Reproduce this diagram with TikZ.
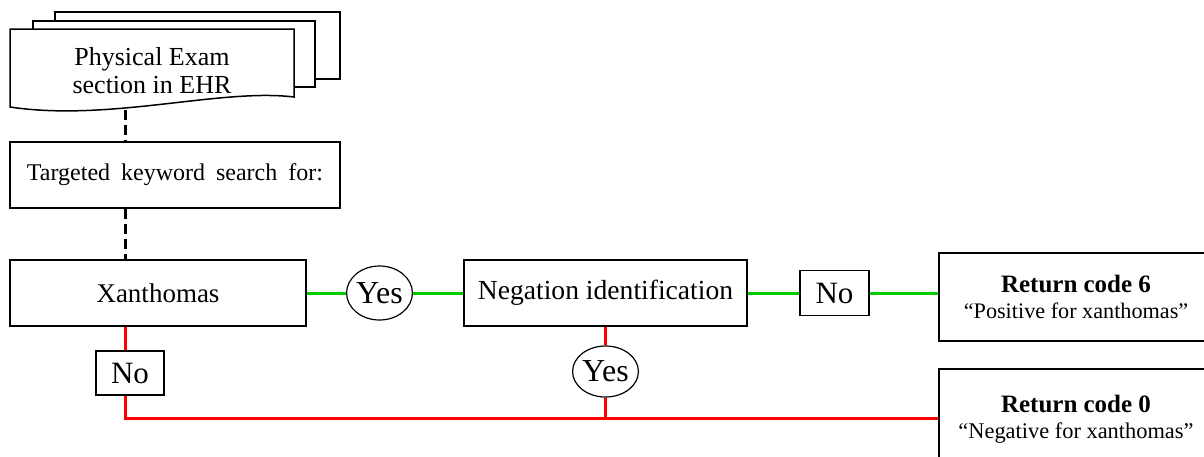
\documentclass[tikz,border=0pt]{standalone}
\usepackage{fontspec}
\setmainfont{Liberation Serif}
\usetikzlibrary{shapes.geometric}

\definecolor{linegreen}{RGB}{0,204,0}
\definecolor{linered}{RGB}{255,0,0}

\begin{document}
\begin{tikzpicture}[x=0.5pt,y=-0.5pt]

\tikzset{
    sheet/.style={draw, line width=0.75pt, fill=white},
    box/.style={draw, line width=0.75pt, fill=white, inner sep=0pt, align=center},
    oval/.style={draw, ellipse, line width=0.6pt, fill=white, inner sep=0pt, minimum width=31pt, font=\fontsize{16}{18}\selectfont},
    dashline/.style={line width=1.5pt, dash pattern=on 5pt off 2.5pt},
    greenline/.style={line width=1.5pt, draw=linegreen},
    redline/.style={line width=1.5pt, draw=linered}
}
\clip (0,0) rectangle (1204,456);

\draw[sheet] (55,12) rectangle (340,79);
\draw[sheet] (33,21) rectangle (315,87);
\draw[sheet] (10,29) -- (294,29) -- (294,97) .. controls (220,88) and (110,122) .. (10,107) -- cycle;
\node[align=center, font=\fontsize{13}{14}\selectfont] (doc) at (152,71) {Physical Exam\\section in EHR};
\coordinate (docb) at (125,110);

\node[box, minimum width=165pt, minimum height=33pt, font=\fontsize{12}{15}\selectfont] (tks) at (175,175) {Targeted\hspace{5.5pt}keyword\hspace{5.5pt}search\hspace{5.5pt}for:};
\node[box, minimum width=148pt, minimum height=33pt, font=\fontsize{13.5}{15}\selectfont] (xan) at (158,293) {Xanthomas};
\node[oval, minimum height=27pt] (yes1) at (379.5,293) {Yes};
\node[box, minimum width=141.5pt, minimum height=33pt, font=\fontsize{13.8}{15}\selectfont] (neg) at (605.5,293) {Negation identification};
\node[box, minimum width=34.5pt, minimum height=22.5pt, font=\fontsize{15.5}{17}\selectfont] (no2) at (834.5,293) {No};
\node[box, minimum width=137pt, minimum height=44pt, font=\fontsize{11.1}{13}\selectfont] (r6) at (1076,297) {{\fontsize{12.5}{13}\selectfont\bfseries Return code 6}\\``Positive for xanthomas''};
\node[oval, minimum height=25.5pt] (yes2) at (605.5,371.5) {Yes};
\node[box, minimum width=34pt, minimum height=22pt, font=\fontsize{15.5}{17}\selectfont] (no1) at (130,373) {No};
\node[box, minimum width=137pt, minimum height=50pt, font=\fontsize{11.2}{13}\selectfont] (r0) at (1076,419) {{\fontsize{12.5}{13}\selectfont\bfseries Return code 0}\\``Negative for xanthomas''};

\draw[dashline] (docb) -- (tks.north -| docb);
\draw[dashline] (tks.south -| docb) -- (xan.north -| docb);

\draw[greenline] (xan.east) -- (yes1.west);
\draw[greenline] (yes1.east) -- (neg.west);
\draw[greenline] (neg.east) -- (no2.west);
\draw[greenline] (no2.east) -- (no2.east -| r6.west);

\draw[redline] (xan.south -| docb) -- (no1.north -| docb);
\draw[redline] (no1.south -| docb) -- ++(0,23) coordinate (redturn) -- (redturn -| r0.west);
\draw[redline] (neg.south) -- (yes2.north);
\draw[redline] (yes2.south) -- (yes2.south |- redturn);

\end{tikzpicture}
\end{document}
